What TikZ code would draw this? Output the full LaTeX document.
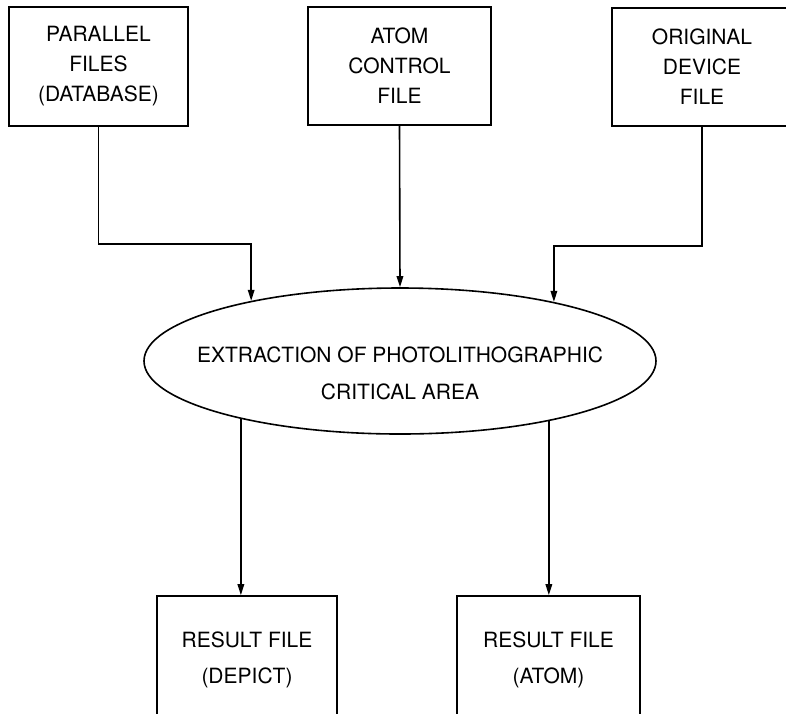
\documentclass[tikz,border=0pt]{standalone}
\usepackage{fontspec}
\setmainfont{TeX Gyre Heros}
\usetikzlibrary{shapes.geometric,arrows.meta}
\begin{document}
\begin{tikzpicture}[x=1pt,y=-1pt,
  filebox/.style={draw,line width=1.6pt,rectangle,inner sep=0pt,align=center,
    font=\fontsize{21}{30}\selectfont},
  resbox/.style={filebox,font=\fontsize{21}{36}\selectfont},
  proc/.style={draw,line width=1.6pt,ellipse,inner sep=0pt,
    minimum width=512pt,minimum height=146pt},
  ptext/.style={align=center,inner sep=0pt,font=\fontsize{21}{37}\selectfont},
  flow/.style={line width=1.6pt,-{Triangle[length=11pt,width=6.5pt]}}]
\useasboundingbox (0,0) rectangle (786,713);
\clip (0,0) rectangle (786,713);

% input files
\node[filebox,minimum width=179pt,minimum height=119pt] (par) at (98.5,66.5)
  {PARALLEL\\FILES\\(DATABASE)};
\node[filebox,minimum width=183pt,minimum height=118pt] (ctl) at (399.5,66)
  {ATOM\\CONTROL\\FILE};
\node[filebox,minimum width=180pt,minimum height=118pt] (dev) at (702,67)
  {ORIGINAL\\DEVICE\\FILE};

% extraction step
\node[proc] (ext) at (400,361) {};
\node[ptext] (exttext) at (400,373.5) {EXTRACTION OF PHOTOLITHOGRAPHIC\\CRITICAL AREA};

% result files
\node[resbox,minimum width=180pt,minimum height=128pt] (rdep) at (247,660)
  {RESULT FILE\\(DEPICT)};
\node[resbox,minimum width=183pt,minimum height=128pt] (ratm) at (548.5,660)
  {RESULT FILE\\(ATOM)};

% connectors
\draw[flow] (par.south) -- ++(0,117) -| (ext.158.9);
\draw[flow] (ctl.south) -- (ext.north);
\draw[flow] (dev.south) -- ++(0,119) -| (ext.21.3);
\draw[flow] (ext.200.9) -- (ext.200.9 |- rdep.north);
\draw[flow] (ext.338.7) -- (ext.338.7 |- ratm.north);
\end{tikzpicture}
\end{document}
